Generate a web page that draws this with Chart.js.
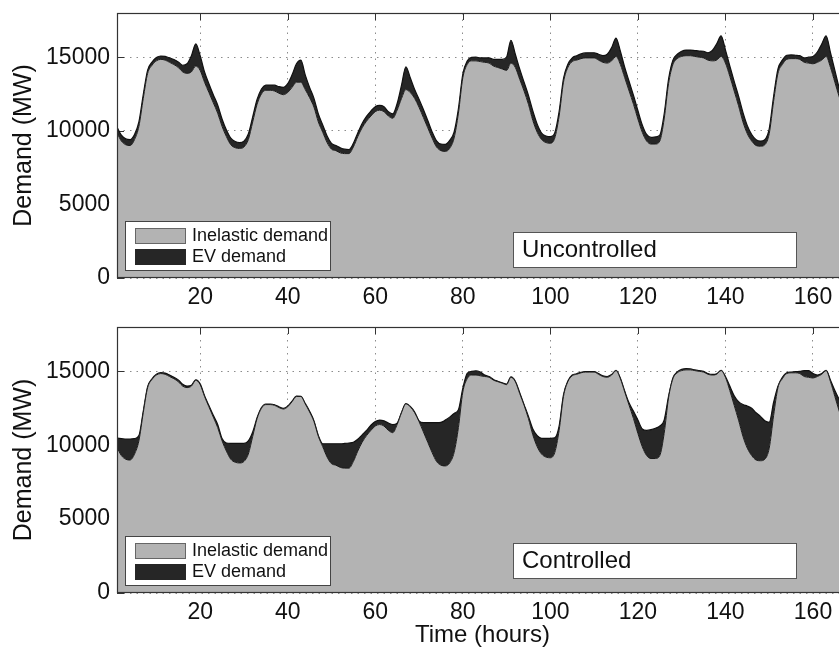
<!DOCTYPE html>
<html>
<head>
<meta charset="utf-8">
<title>Demand - uncontrolled vs controlled EV charging</title>
<script src="https://cdn.jsdelivr.net/npm/chart.js@4.4.1/dist/chart.umd.min.js"></script>
<style>
  html, body { margin: 0; padding: 0; background: #fff; overflow: hidden; }
  body { width: 839px; height: 650px; position: relative; }
  .panel { position: absolute; left: 0; width: 880px; }
  #top-panel { top: 0; height: 320px; }
  #bottom-panel { top: 314px; height: 336px; }
</style>
</head>
<body>
<div class="panel" id="top-panel"><canvas id="uncontrolled-chart"></canvas></div>
<div class="panel" id="bottom-panel"><canvas id="controlled-chart"></canvas></div>

<script>
// hourly values, hour 1 .. 168 (one week)
const hours = Array.from({ length: 168 }, (_, i) => i + 1);

const xTicks = [20, 40, 60, 80, 100, 120, 140, 160];
const yTicks = [0, 5000, 10000, 15000];

// inelastic (non-EV) demand, MW
const inelastic = [
    9850, 9300, 9050, 9000, 9400, 10300, 12200, 13900, 14450, 14750,
    14850, 14800, 14650, 14500, 14300, 14000, 13900, 14000, 14400, 14100,
    13300, 12600, 11900, 11200, 10300, 9600, 9050, 8850, 8800, 8900,
    9400, 10600, 11800, 12500, 12750, 12750, 12700, 12550, 12450, 12600,
    12950, 13300, 13300, 12800, 12250, 11600, 10600, 9900, 9200, 8750,
    8650, 8500, 8450, 8450, 8900, 9600, 10200, 10650, 11000, 11300,
    11400, 11300, 11000, 10850, 11400, 12200, 12800, 12600, 12200, 11600,
    10900, 10200, 9500, 8900, 8650, 8600, 8800, 9500, 11200, 13600,
    14500, 14750, 14750, 14700, 14650, 14600, 14400, 14300, 14200, 14100,
    14600, 14300, 13500, 12700, 11800, 10700, 9900, 9400, 9200, 9150,
    9500, 11000, 13300, 14300, 14700, 14800, 14900, 14950, 14950, 14950,
    14800, 14650, 14600, 14750, 15050, 14500, 13600, 12700, 11800, 10800,
    9900, 9300, 9100, 9100, 9300, 10800, 13200, 14500, 14900, 15050,
    15100, 15100, 15050, 15000, 14950, 14800, 14750, 14800, 15050, 14600,
    13700, 12700, 11700, 10600, 9800, 9300, 9000, 8950, 9050, 9800,
    12000, 13900, 14500, 14850, 14900, 14900, 14850, 14650, 14600, 14550,
    14650, 14800, 15050, 14300, 13300, 12300, 11400, 10600
];

// EV demand, uncontrolled charging, MW
const evUncontrolled = [
    400, 400, 400, 400, 350, 300, 250, 220, 220, 230,
    230, 250, 300, 340, 380, 450, 650, 1100, 1500, 1000,
    700, 600, 550, 550, 500, 450, 450, 420, 400, 400,
    380, 350, 330, 340, 350, 360, 400, 450, 500, 600,
    850, 1250, 1500, 1000, 700, 600, 550, 500, 450, 400,
    350, 350, 300, 280, 250, 250, 300, 330, 340, 340,
    320, 330, 300, 300, 450, 900, 1550, 1000, 600, 550,
    550, 500, 420, 420, 450, 480, 550, 400, 300, 250,
    230, 230, 250, 250, 300, 350, 450, 550, 650, 900,
    1550, 900, 700, 600, 600, 650, 550, 450, 450, 450,
    350, 300, 250, 220, 250, 300, 320, 340, 350, 350,
    400, 450, 600, 900, 1250, 900, 700, 650, 600, 580,
    500, 450, 450, 480, 400, 330, 300, 300, 300, 350,
    380, 380, 400, 420, 450, 500, 700, 1100, 1400, 900,
    700, 650, 650, 650, 550, 450, 400, 350, 350, 330,
    330, 300, 300, 280, 250, 230, 250, 300, 400, 500,
    700, 1100, 1400, 1000, 800, 600, 550, 500
];

// EV demand, controlled (valley filling), MW
const evControlled = [
    630, 1150, 1370, 1420, 1050, 350, 100, 60, 50, 60,
    60, 80, 100, 100, 120, 120, 100, 60, 30, 50,
    50, 80, 120, 200, 150, 550, 1080, 1280, 1330, 1230,
    900, 300, 60, 50, 40, 40, 40, 50, 50, 40,
    30, 20, 10, 30, 50, 50, 50, 200, 900, 1350,
    1450, 1600, 1670, 1700, 1300, 800, 500, 350, 350, 300,
    300, 350, 500, 550, 100, 20, 10, 30, 50, 50,
    630, 1330, 2030, 2630, 2900, 3100, 3100, 2650, 1200, 250,
    360, 250, 290, 250, 100, 50, 50, 30, 30, 30,
    20, 30, 50, 50, 150, 400, 750, 1070, 1270, 1320,
    1000, 300, 100, 50, 50, 40, 40, 40, 40, 40,
    50, 50, 50, 30, 20, 40, 50, 150, 500, 900,
    1200, 1700, 1950, 2050, 2000, 900, 100, 50, 60, 80,
    80, 60, 50, 50, 50, 50, 40, 30, 20, 50,
    300, 650, 1250, 2150, 2850, 3200, 3200, 3000, 2600, 1750,
    900, 100, 100, 50, 50, 80, 150, 400, 450, 300,
    100, 50, 20, 100, 400, 800, 1200, 1600
];

const GRAY = '#b3b3b3';
const DARK = '#262626';
const FONT = '"Liberation Sans", Arial, Helvetica, sans-serif';

// frame, inward ticks, legend and the panel caption (drawn like the matlab axes)
const panelDecor = {
    id: 'panelDecor',
    beforeDatasetsDraw(chart) {
        const { ctx, chartArea: a, scales: { x, y } } = chart;
        ctx.save();
        ctx.strokeStyle = '#333';
        ctx.lineWidth = 1;
        ctx.beginPath();
        xTicks.forEach(v => {
            const px = Math.round(x.getPixelForValue(v)) + 0.5;
            ctx.moveTo(px, a.top);
            ctx.lineTo(px, a.top + 7);
        });
        yTicks.forEach(v => {
            const py = Math.round(y.getPixelForValue(v)) + 0.5;
            ctx.moveTo(a.left, py);
            ctx.lineTo(a.left + 7, py);
        });
        ctx.stroke();
        ctx.restore();
    },
    afterDatasetsDraw(chart, args, opts) {
        const { ctx, chartArea: a } = chart;
        const sets = chart.data.datasets;
        ctx.save();

        // axes box
        ctx.strokeStyle = '#333';
        ctx.lineWidth = 1.2;
        ctx.strokeRect(a.left + 0.5, a.top + 0.5, a.width, a.height - 1);

        // legend, lower left
        const lx = a.left + 8, ly = a.bottom - 57;
        ctx.fillStyle = '#fff';
        ctx.fillRect(lx, ly, 205, 49);
        ctx.strokeStyle = '#444';
        ctx.lineWidth = 1;
        ctx.strokeRect(lx + 0.5, ly + 0.5, 205, 49);
        ctx.font = '18px ' + FONT;
        ctx.textBaseline = 'middle';
        ctx.textAlign = 'left';
        sets.forEach((ds, i) => {
            const sy = ly + 7 + i * 21;
            ctx.fillStyle = ds.backgroundColor;
            ctx.fillRect(lx + 10, sy, 51, 16);
            ctx.strokeStyle = i === 0 ? '#666' : ds.backgroundColor;
            ctx.strokeRect(lx + 10.5, sy + 0.5, 50, 15);
            ctx.fillStyle = '#111';
            ctx.fillText(ds.label, lx + 67, sy + 8);
        });

        // caption box
        const cx = a.left + 396, cy = a.bottom + opts.captionDy;
        ctx.fillStyle = '#fff';
        ctx.fillRect(cx, cy, 283, 35);
        ctx.strokeStyle = '#555';
        ctx.strokeRect(cx + 0.5, cy + 0.5, 283, 35);
        ctx.fillStyle = '#111';
        ctx.font = '24px ' + FONT;
        ctx.fillText(opts.caption, cx + 9, cy + 18);

        ctx.restore();
    }
};

function buildDatasets(ev) {
    const total = inelastic.map((v, i) => v + ev[i]);
    return [
        {
            label: 'Inelastic demand',
            data: hours.map((h, i) => ({ x: h, y: inelastic[i] })),
            fill: 'origin',
            backgroundColor: GRAY,
            borderColor: '#1a1a1a',
            borderWidth: 1
        },
        {
            label: 'EV demand',
            data: hours.map((h, i) => ({ x: h, y: total[i] })),
            fill: '-1',
            backgroundColor: DARK,
            borderColor: '#111',
            borderWidth: 1.2
        }
    ];
}

function createPanel(canvasId, ev, caption, captionDy, xAxisHeight, showXTitle) {
    const ctx = document.getElementById(canvasId);
    if (!ctx) {
        console.error('canvas not found:', canvasId);
        return;
    }

    new Chart(ctx, {
        type: 'line',
        data: { datasets: buildDatasets(ev) },
        plugins: [panelDecor],
        options: {
            responsive: true,
            maintainAspectRatio: false,
            animation: false,
            layout: { padding: { top: 13, right: 32, left: 0, bottom: 0 } },
            elements: {
                point: { radius: 0 },
                line: { cubicInterpolationMode: 'monotone' }
            },
            plugins: {
                legend: { display: false },
                tooltip: { enabled: false },
                panelDecor: { caption: caption, captionDy: captionDy }
            },
            scales: {
                x: {
                    type: 'linear',
                    min: 1,
                    max: 168,
                    afterBuildTicks: s => { s.ticks = xTicks.map(v => ({ value: v })); },
                    afterFit: s => {
                        s.height = xAxisHeight;
                        s.paddingLeft = 0;
                        s.paddingRight = 0;
                    },
                    grid: { color: '#8c8c8c', lineWidth: 1, drawTicks: false },
                    border: { display: false, dash: [1.5, 5] },
                    ticks: {
                        padding: 6,
                        color: '#111',
                        maxRotation: 0,
                        autoSkip: false,
                        callback: value => String(value),
                        font: { family: FONT, size: 23 }
                    },
                    title: {
                        display: showXTitle,
                        text: 'Time (hours)',
                        color: '#111',
                        padding: { top: 0, bottom: 0 },
                        font: { family: FONT, size: 24 }
                    }
                },
                y: {
                    min: 0,
                    max: 18000,
                    afterBuildTicks: s => { s.ticks = yTicks.map(v => ({ value: v })); },
                    afterFit: s => {
                        s.width = 117;
                        s.paddingTop = 0;
                        s.paddingBottom = 0;
                    },
                    grid: { color: '#8c8c8c', lineWidth: 1, drawTicks: false },
                    border: { display: false, dash: [1.5, 5] },
                    ticks: {
                        padding: 7,
                        color: '#111',
                        callback: value => String(value),
                        font: { family: FONT, size: 23 }
                    },
                    title: {
                        display: true,
                        text: 'Demand (MW)',
                        color: '#111',
                        padding: { top: 9, bottom: 0 },
                        font: { family: FONT, size: 25 }
                    }
                }
            }
        }
    });
}

createPanel('uncontrolled-chart', evUncontrolled, 'Uncontrolled', -46, 42, false);
createPanel('controlled-chart', evControlled, 'Controlled', -50, 57, true);
</script>
</body>
</html>
